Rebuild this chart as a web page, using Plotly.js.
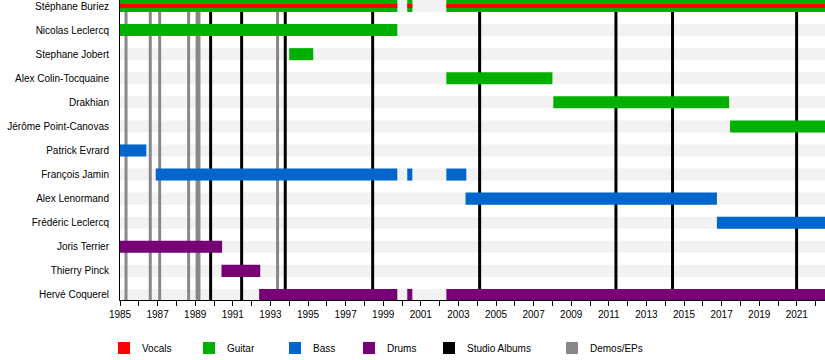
<!DOCTYPE html>
<html>
<head>
<meta charset="utf-8">
<script src="https://cdn.plot.ly/plotly-3.0.1.min.js"></script>
<style>html,body{margin:0;padding:0;background:#fff;}#chart{width:825px;height:360px;}</style>
</head>
<body>
<div id="chart"></div>
<script>
// ---- data ----
var members = ["Stéphane Buriez","Nicolas Leclercq","Stephane Jobert","Alex Colin-Tocquaine","Drakhian","Jérôme Point-Canovas","Patrick Evrard","François Jamin","Alex Lenormand","Frédéric Leclercq","Joris Terrier","Thierry Pinck","Hervé Coquerel"];
var startYear = 1985;
var endYear = 2022.5;

var vocalsMember = ["Stéphane Buriez","Stéphane Buriez","Stéphane Buriez"];
var vocalsStart  = [1985, 2000.28, 2002.36];
var vocalsEnd    = [1999.75, 2000.55, 2022.5];

var guitarMember = ["Stéphane Buriez","Stéphane Buriez","Stéphane Buriez","Nicolas Leclercq","Stephane Jobert","Alex Colin-Tocquaine","Drakhian","Jérôme Point-Canovas"];
var guitarStart  = [1985, 2000.28, 2002.36, 1985, 1994.0, 2002.36, 2008.05, 2017.45];
var guitarEnd    = [1999.75, 2000.55, 2022.5, 1999.75, 1995.28, 2008.0, 2017.4, 2022.5];

var bassMember = ["Patrick Evrard","François Jamin","François Jamin","François Jamin","Alex Lenormand","Frédéric Leclercq"];
var bassStart  = [1985, 1986.9, 2000.28, 2002.36, 2003.38, 2016.75];
var bassEnd    = [1986.4, 1999.75, 2000.55, 2003.42, 2016.75, 2022.5];

var drumsMember = ["Joris Terrier","Thierry Pinck","Hervé Coquerel","Hervé Coquerel","Hervé Coquerel"];
var drumsStart  = [1985, 1990.4, 1992.4, 2000.28, 2002.36];
var drumsEnd    = [1990.43, 1992.46, 1999.75, 2000.55, 2022.5];

var studioAlbums = [1989.82, 1991.47, 1993.79, 1998.44, 2004.13, 2011.38, 2014.39, 2020.99];
var demosEPs     = [1985.32, 1986.61, 1987.11, 1988.65, 1989.1, 1989.2, 1993.38];

var legendNames  = ["Vocals","Guitar","Bass","Drums","Studio Albums","Demos/EPs"];
var legendColors = ["#ff0000","#00b000","#0066cc","#770077","#000000","#888888"];

// ---- build ----
var C = {Vocals:legendColors[0], Guitar:legendColors[1], Bass:legendColors[2], Drums:legendColors[3], Studio:legendColors[4], Demos:legendColors[5]};
function idx(name){ return members.indexOf(name); }
function barTrace(name, mem, st, en, color, width){
  return {
    type:"bar", orientation:"h", name:name,
    y: mem.map(idx),
    base: st,
    x: st.map(function(s,i){ return en[i]-s; }),
    width: width,
    marker:{color:color, line:{width:0}},
    hoverinfo:"skip", showlegend:false
  };
}
var data = [
  barTrace("Guitar", guitarMember, guitarStart, guitarEnd, C.Guitar, 0.5),
  barTrace("Bass", bassMember, bassStart, bassEnd, C.Bass, 0.5),
  barTrace("Drums", drumsMember, drumsStart, drumsEnd, C.Drums, 0.5),
  barTrace("Vocals", vocalsMember, vocalsStart, vocalsEnd, C.Vocals, 0.17)
];

var shapes = [];
members.forEach(function(m,i){
  shapes.push({type:"rect", xref:"paper", yref:"y", x0:0, x1:1, y0:i-0.25, y1:i+0.25, fillcolor:"#f2f2f2", line:{width:0}, layer:"below"});
});
demosEPs.forEach(function(v){
  shapes.push({type:"line", xref:"x", yref:"paper", x0:v, x1:v, y0:0, y1:1, line:{color:C.Demos, width:3}, layer:"below"});
});
studioAlbums.forEach(function(v){
  shapes.push({type:"line", xref:"x", yref:"paper", x0:v, x1:v, y0:0, y1:1, line:{color:C.Studio, width:3}, layer:"below"});
});

// legend (drawn manually below the plot)
var PL = 120, PW = 705, PH = 300;
var legendLeftPx = [118, 203, 289, 363, 443, 566];
var annotations = [];
legendNames.forEach(function(n,i){
  var x0 = legendLeftPx[i];
  shapes.push({type:"rect", xref:"paper", yref:"paper",
    x0:(x0-PL)/PW, x1:(x0+12-PL)/PW, y0:(PH-354)/PH, y1:(PH-342)/PH,
    fillcolor:legendColors[i], line:{width:0}, layer:"above"});
  annotations.push({xref:"paper", yref:"paper", x:(x0+22-PL)/PW, y:(PH-348)/PH,
    xanchor:"left", yanchor:"middle", text:n, showarrow:false,
    font:{size:10, color:"#000"}});
});

var tickYears = [];
for (var y = 1985; y <= 2021; y += 2) tickYears.push(y);

var layout = {
  width:825, height:360,
  margin:{l:120, r:0, t:0, b:60, autoexpand:false},
  paper_bgcolor:"#fff", plot_bgcolor:"#fff",
  font:{family:"Liberation Sans, Arial, sans-serif", size:10, color:"#000"},
  barmode:"overlay",
  showlegend:false,
  xaxis:{
    range:[startYear, endYear], showgrid:false, zeroline:false,
    showline:true, linecolor:"#000", linewidth:1,
    tickmode:"array", tickvals:tickYears, ticktext:tickYears.map(String),
    ticks:"outside", ticklen:5, tickcolor:"#000", tickwidth:1,
    minor:{dtick:1, tick0:1985, ticks:"outside", ticklen:5, tickcolor:"#000", tickwidth:1, showgrid:false},
    tickfont:{size:10}, fixedrange:true
  },
  yaxis:{
    range:[12.21, -0.25], showgrid:false, zeroline:false,
    showline:true, linecolor:"#000", linewidth:1,
    tickmode:"array", tickvals:members.map(function(m,i){return i;}), ticktext:members,
    ticks:"", ticklabelstandoff:8, tickfont:{size:10}, fixedrange:true
  },
  shapes:shapes,
  annotations:annotations
};

Plotly.newPlot("chart", data, layout, {staticPlot:true, displayModeBar:false});
</script>
</body>
</html>
